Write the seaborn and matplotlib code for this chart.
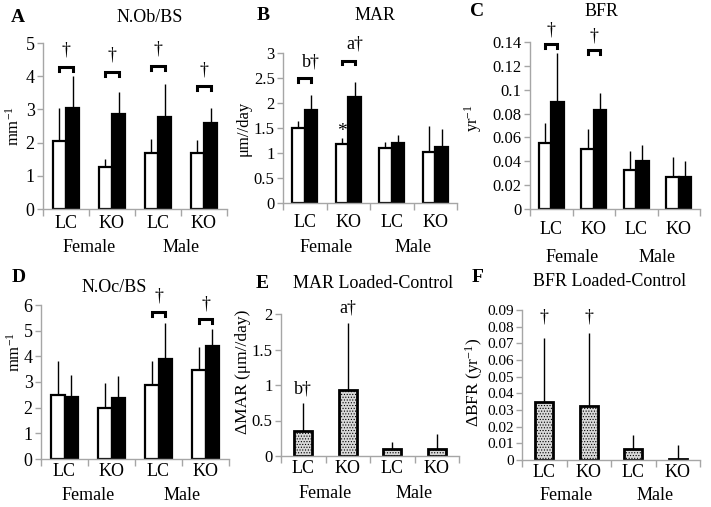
import numpy as np
import pandas as pd
import seaborn as sns
import matplotlib.pyplot as plt

#####################################
# Data
#####################################

groups = ["Female LC", "Female KO", "Male LC", "Male KO"]
tick_labels = ["LC", "KO", "LC", "KO"]
sexes = ["Female", "Male"]

# A  N.Ob/BS (mm^-1)
nob_ctrl = [2.05, 1.28, 1.70, 1.68]
nob_ctrl_sd = [1.00, 0.22, 0.40, 0.39]
nob_load = [3.05, 2.87, 2.78, 2.60]
nob_load_sd = [0.97, 0.65, 0.97, 0.45]
nob_brackets = [4.28, 4.13, 4.31, 3.70]

# B  MAR (um/day)
mar_ctrl = [1.50, 1.18, 1.10, 1.02]
mar_ctrl_sd = [0.15, 0.12, 0.12, 0.53]
mar_load = [1.87, 2.12, 1.20, 1.12]
mar_load_sd = [0.30, 0.30, 0.17, 0.36]
mar_brackets = [2.50, 2.85, None, None]
mar_bracket_text = ["b†", "a†", None, None]

# C  BFR (yr^-1)
bfr_ctrl = [0.055, 0.050, 0.033, 0.027]
bfr_ctrl_sd = [0.017, 0.017, 0.016, 0.017]
bfr_load = [0.090, 0.083, 0.040, 0.027]
bfr_load_sd = [0.041, 0.014, 0.014, 0.013]
bfr_brackets = [0.1386, 0.1336, None, None]

# D  N.Oc/BS (mm^-1)
noc_ctrl = [2.50, 1.98, 2.90, 3.48]
noc_ctrl_sd = [1.30, 0.97, 0.92, 0.90]
noc_load = [2.42, 2.37, 3.88, 4.42]
noc_load_sd = [0.85, 0.88, 1.40, 0.63]
noc_brackets = [None, None, 5.74, 5.44]

# E  MAR loaded - control
dmar = [0.35, 0.93, 0.10, 0.10]
dmar_sd = [0.40, 0.95, 0.10, 0.21]
dmar_marks = [(0, 0.95, "b†"), (1, 2.08, "a†")]

# F  BFR loaded - control
dbfr = [0.035, 0.0325, 0.0065, 0.0005]
dbfr_sd = [0.0385, 0.0435, 0.0085, 0.0085]
dbfr_marks = [(0, 0.086, "†"), (1, 0.086, "†")]

#####################################
# Style
#####################################

W, H = 711, 507
plt.rcParams.update({
    "font.family": ["Liberation Serif", "DejaVu Serif"],
    "mathtext.fontset": "custom",
    "mathtext.rm": "Liberation Serif",
    "mathtext.it": "Liberation Serif:italic",
    "hatch.linewidth": 0.5,
})
SPINE = "#a6a6a6"

fig = plt.figure(figsize=(W / 100, H / 100), dpi=100)


def px(x, y):
    return x / W, 1 - y / H


def add_axes(left, top, right, bottom):
    return fig.add_axes([left / W, 1 - bottom / H, (right - left) / W, (bottom - top) / H])


def style_axes(ax, yticks, fs, tick_pad, sex_offset, ylabel, ylabel_xy, ylabel_fs=12):
    ax.set_xlim(-0.5, 3.5)
    ax.set_ylim(yticks[0], yticks[-1])
    ax.set_yticks(yticks)
    ax.set_yticklabels([f"{v:g}" for v in yticks], fontsize=fs)
    ax.set_xticks(range(4))
    ax.set_xticklabels(tick_labels, fontsize=13)
    ax.set_xticks(np.arange(-0.5, 4, 1), minor=True)
    ax.tick_params(axis="x", which="major", length=0, pad=tick_pad)
    ax.tick_params(axis="x", which="minor", length=5, color=SPINE, width=1)
    ax.tick_params(axis="y", length=4, color=SPINE, width=1, pad=2)
    ax.set_xlabel("")
    sns.despine(ax=ax)
    for side in ("left", "bottom"):
        ax.spines[side].set_color(SPINE)
        ax.spines[side].set_linewidth(1)
    for i, sex in enumerate(sexes):
        ax.annotate(sex, xy=(2 * i + 0.5, 0), xycoords=("data", "axes fraction"),
                    xytext=(0, -sex_offset), textcoords="offset pixels",
                    ha="center", va="center", fontsize=13)
    ax.set_ylabel(ylabel, fontsize=ylabel_fs, va="center")
    ax.yaxis.set_label_coords(*px(*ylabel_xy), transform=fig.transFigure)


def bar_centers(container):
    return np.array([b.get_x() + b.get_width() / 2 for b in container])


def paired_panel(ax, ctrl, ctrl_sd, load, load_sd):
    df = pd.DataFrame({
        "group": groups * 2,
        "limb": ["control"] * 4 + ["loaded"] * 4,
        "value": ctrl + load,
    })
    sns.barplot(data=df, x="group", y="value", hue="limb", order=groups,
                hue_order=["control", "loaded"],
                palette={"control": "white", "loaded": "black"},
                edgecolor="black", linewidth=1.6, width=0.58, saturation=1,
                errorbar=None, legend=False, ax=ax)
    # one-sided SD bars, no caps
    for cont, sd in zip(ax.containers, [ctrl_sd, load_sd]):
        xs = bar_centers(cont)
        hs = np.array([b.get_height() for b in cont])
        ax.errorbar(xs, hs, yerr=[np.zeros(len(sd)), sd], fmt="none",
                    ecolor="black", elinewidth=1.0, capsize=0)
    return bar_centers(ax.containers[0]), bar_centers(ax.containers[1])


def draw_brackets(ax, x_white, x_black, brackets, span, text_dy, texts=None):
    for i, y in enumerate(brackets):
        if y is None:
            continue
        d = span * 0.025
        ax.plot([x_white[i], x_white[i], x_black[i], x_black[i]],
                [y - d, y, y, y - d], color="black", lw=2.2,
                solid_joinstyle="miter", clip_on=False)
        label = texts[i] if texts else "†"
        xt = x_black[i] if texts else (x_white[i] + x_black[i]) / 2
        ax.text(xt, y + text_dy, label, ha="center", va="center",
                fontsize=13, clip_on=False)


def single_panel(ax, vals, sd, marks):
    df = pd.DataFrame({"group": groups, "value": vals})
    sns.barplot(data=df, x="group", y="value", order=groups, color="#d9d9d9",
                edgecolor="black", linewidth=2.0, width=0.4, saturation=1,
                errorbar=None, ax=ax)
    cont = ax.containers[0]
    for b in cont:
        b.set_hatch("......")
    xs = bar_centers(cont)
    hs = np.array([b.get_height() for b in cont])
    ax.errorbar(xs, hs, yerr=[np.zeros(len(sd)), sd], fmt="none",
                ecolor="black", elinewidth=1.0, capsize=0)
    for i, y, label in marks:
        ax.text(xs[i], y, label, ha="center", va="center", fontsize=13, clip_on=False)


#####################################
# Panels
#####################################

# A
ax = add_axes(43, 43, 227, 209)
xw, xb = paired_panel(ax, nob_ctrl, nob_ctrl_sd, nob_load, nob_load_sd)
style_axes(ax, [0, 1, 2, 3, 4, 5], 13, 4, 39, "mm$^{-1}$", (14, 126))
draw_brackets(ax, xw, xb, nob_brackets, 5, text_dy=0.5)

# B
ax = add_axes(283, 53, 457, 203)
xw, xb = paired_panel(ax, mar_ctrl, mar_ctrl_sd, mar_load, mar_load_sd)
style_axes(ax, [0, 0.5, 1, 1.5, 2, 2.5, 3], 12, 8, 45, "μm//day", (244, 128))
draw_brackets(ax, xw, xb, mar_brackets, 3, text_dy=0.33, texts=mar_bracket_text)
ax.text(xw[1], 1.42, "*", ha="center", va="center", fontsize=14)

# C
ax = add_axes(530, 42, 700, 209)
xw, xb = paired_panel(ax, bfr_ctrl, bfr_ctrl_sd, bfr_load, bfr_load_sd)
style_axes(ax, [0, 0.02, 0.04, 0.06, 0.08, 0.1, 0.12, 0.14], 12, 9, 48,
           "yr$^{-1}$", (473, 118))
draw_brackets(ax, xw, xb, bfr_brackets, 0.14, text_dy=0.0115)

# D
ax = add_axes(41, 305, 229, 459)
xw, xb = paired_panel(ax, noc_ctrl, noc_ctrl_sd, noc_load, noc_load_sd)
style_axes(ax, [0, 1, 2, 3, 4, 5, 6], 13, 3, 36, "mm$^{-1}$", (15, 352))
draw_brackets(ax, xw, xb, noc_brackets, 6, text_dy=0.6)

# E
ax = add_axes(281, 314, 459, 456)
single_panel(ax, dmar, dmar_sd, dmar_marks)
style_axes(ax, [0, 0.5, 1, 1.5, 2], 12, 3, 37, "ΔMAR (μm//day)", (243, 372), 12.5)

# F
ax = add_axes(522, 310, 700, 460)
single_panel(ax, dbfr, dbfr_sd, dbfr_marks)
style_axes(ax, [0, 0.01, 0.02, 0.03, 0.04, 0.05, 0.06, 0.07, 0.08, 0.09], 11, 3, 35,
           "ΔBFR (yr$^{-1}$)", (474, 382), 12.5)

#####################################
# Titles and panel letters
#####################################

titles = [("N.Ob/BS", 150, 17), ("MAR", 375, 15), ("BFR", 602, 11),
          ("N.Oc/BS", 114, 287), ("MAR Loaded-Control", 373, 283),
          ("BFR Loaded-Control", 610, 282)]
for text, x, y in titles:
    fig.text(*px(x, y), text, ha="center", va="center", fontsize=13)

letters = [("A", 18, 18), ("B", 263, 15), ("C", 477, 11),
           ("D", 19, 278), ("E", 262, 283), ("F", 478, 278)]
for text, x, y in letters:
    fig.text(*px(x, y), text, ha="center", va="center", fontsize=14, fontweight="bold")

fig.savefig("out.png", dpi=100)
